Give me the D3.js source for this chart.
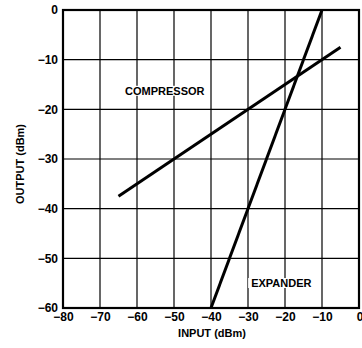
<!DOCTYPE html>
<html>
<head>
<meta charset="utf-8">
<script src="https://cdn.jsdelivr.net/npm/d3@7"></script>
<style>
  body { margin: 0; background: #fff; }
  text { font-family: "Liberation Sans", Arial, sans-serif; fill: #000; }
</style>
</head>
<body>
<div id="chart"></div>
<script>
// data
const xTicks = [-80, -70, -60, -50, -40, -30, -20, -10, 0];
const yTicks = [0, -10, -20, -30, -40, -50, -60];
const compressorIn = [-65, -5];
const compressorOut = [-37.5, -7.5];
const expanderIn = [-40, -10];
const expanderOut = [-60, 0];
const curveLabels = [
    { name: "COMPRESSOR", x: -52.5, y: -16.3 },
    { name: "EXPANDER", x: -21, y: -55 }
];

const width = 362, height = 348;
const margin = { top: 10, right: 3, bottom: 40, left: 63 };

var svg = d3.select("#chart")
    .append("svg")
    .attr("width", width)
    .attr("height", height);

var x = d3.scaleLinear().domain([-80, 0]).range([margin.left, width - margin.right]);
var y = d3.scaleLinear().domain([-60, 0]).range([height - margin.bottom, margin.top]);

// grid
svg.append("g")
    .attr("stroke", "#000")
    .attr("stroke-width", 1.2)
    .selectAll("line.v")
    .data(xTicks)
    .enter().append("line")
    .attr("x1", d => x(d)).attr("x2", d => x(d))
    .attr("y1", y(0)).attr("y2", y(-60));

svg.append("g")
    .attr("stroke", "#000")
    .attr("stroke-width", 1.2)
    .selectAll("line.h")
    .data(yTicks)
    .enter().append("line")
    .attr("x1", x(-80)).attr("x2", x(0))
    .attr("y1", d => y(d)).attr("y2", d => y(d));

// frame
svg.append("rect")
    .attr("x", x(-80)).attr("y", y(0))
    .attr("width", x(0) - x(-80))
    .attr("height", y(-60) - y(0))
    .attr("fill", "none")
    .attr("stroke", "#000")
    .attr("stroke-width", 2.2);

// axes labels
var fmt = d => d < 0 ? "\u2212" + Math.abs(d) : d;
var xAxis = d3.axisBottom(x).tickValues(xTicks).tickSize(0).tickPadding(4).tickFormat(fmt);
var gx = svg.append("g")
    .attr("transform", "translate(0," + y(-60) + ")")
    .call(xAxis);
gx.select(".domain").remove();
gx.selectAll("text").style("font-size", "12px").style("font-weight", "bold");
// last label sits against the right edge
gx.selectAll(".tick").filter(d => d === 0).select("text")
    .attr("text-anchor", "end").attr("x", 4);

var yAxis = d3.axisLeft(y).tickValues(yTicks).tickSize(0).tickPadding(5).tickFormat(fmt);
var gy = svg.append("g")
    .attr("transform", "translate(" + x(-80) + ",0)")
    .call(yAxis);
gy.select(".domain").remove();
gy.selectAll("text").style("font-size", "12px").style("font-weight", "bold");

// curves
var line = d3.line().x(d => x(d[0])).y(d => y(d[1]));
svg.append("path")
    .datum(d3.zip(compressorIn, compressorOut))
    .attr("d", line)
    .attr("fill", "none")
    .attr("stroke", "#000")
    .attr("stroke-width", 3);
svg.append("path")
    .datum(d3.zip(expanderIn, expanderOut))
    .attr("d", line)
    .attr("fill", "none")
    .attr("stroke", "#000")
    .attr("stroke-width", 3);

// curve names, with white backing like the original
var lbl = svg.append("g").selectAll("g")
    .data(curveLabels)
    .enter().append("g")
    .attr("transform", d => "translate(" + x(d.x) + "," + y(d.y) + ")");
lbl.append("text")
    .attr("text-anchor", "middle")
    .attr("dy", "0.35em")
    .style("font-size", "11px")
    .style("font-weight", "bold")
    .text(d => d.name);
lbl.each(function () {
    var b = d3.select(this).select("text").node().getBBox();
    d3.select(this).insert("rect", "text")
        .attr("x", b.x - 3).attr("y", b.y + 1)
        .attr("width", b.width + 6).attr("height", b.height - 2)
        .attr("fill", "#fff");
});

svg.append("text")
    .attr("x", 212)
    .attr("y", 337)
    .attr("text-anchor", "middle")
    .style("font-size", "11px")
    .style("font-weight", "bold")
    .text("INPUT (dBm)");

svg.append("text")
    .attr("transform", "translate(24," + 164 + ") rotate(-90)")
    .attr("text-anchor", "middle")
    .style("font-size", "11px")
    .style("font-weight", "bold")
    .text("OUTPUT (dBm)");
</script>
</body>
</html>
